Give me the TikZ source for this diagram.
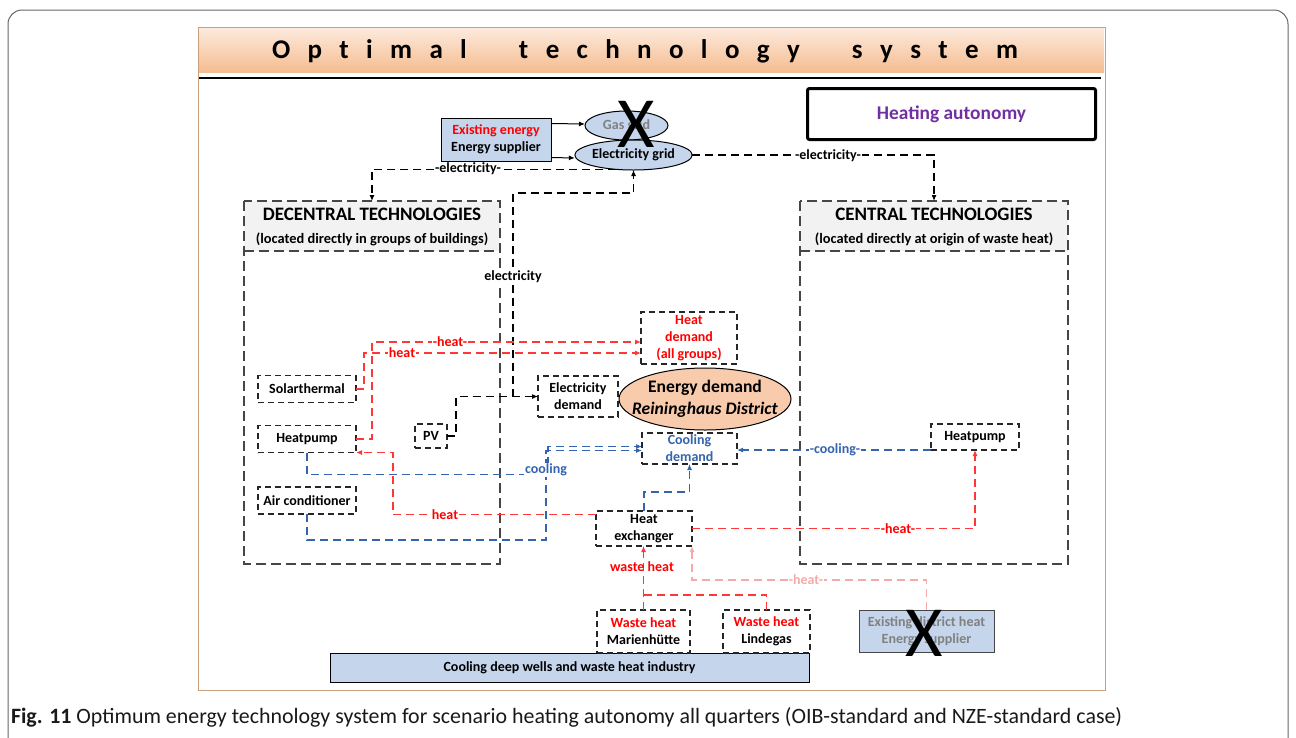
\documentclass[tikz,border=0pt]{standalone}
\usepackage{fontspec}
\setmainfont{Carlito}
\usetikzlibrary{arrows.meta,shapes.geometric,calc}
\definecolor{lblue}{RGB}{197,213,236}
\definecolor{peach}{RGB}{248,203,173}
\definecolor{hred}{RGB}{255,0,0}
\definecolor{lred}{RGB}{255,55,55}
\definecolor{pinkh}{RGB}{245,170,170}
\definecolor{cblue}{RGB}{52,100,175}
\definecolor{purp}{RGB}{112,48,160}
\definecolor{frameor}{RGB}{200,160,125}
\definecolor{titletop}{RGB}{253,234,220}
\definecolor{titlebot}{RGB}{245,188,145}
\definecolor{dgray}{RGB}{70,70,70}
\definecolor{hdrgray}{RGB}{242,242,242}
\definecolor{txtgray}{RGB}{128,128,128}
\newcommand{\fsz}[1]{\fontsize{#1}{17}\selectfont}
\tikzset{
  every node/.style={inner sep=0pt, outer sep=0pt},
  txt/.style={font=\bfseries\fsz{14}, align=center},
  sbox/.style={txt, draw=black!85, line width=1.1pt, dash pattern=on 6pt off 4pt, fill=white},
  bigdash/.style={draw=dgray, line width=1.6pt, dash pattern=on 10pt off 5pt},
  tip/.style={-{Latex[length=6pt,width=5pt]}},
  conn/.style={line width=1.1pt, dash pattern=on 8pt off 5pt, tip},
  heat/.style={conn, draw=lred, -{Latex[length=6pt,width=5pt,fill=lred]}},
  cool/.style={conn, draw=cblue, -{Latex[length=6pt,width=5pt,fill=cblue]}},
  pinkl/.style={conn, draw=pinkh, -{Latex[length=6pt,width=5pt,fill=pinkh]}},
  elec/.style={conn, draw=black},
  lbl/.style={txt, fill=white, inner xsep=1pt, inner ysep=1pt},
  bigx/.style={font=\fontsize{72}{72}\selectfont},
}
\begin{document}
\begin{tikzpicture}[x=1pt,y=-1pt]
\useasboundingbox (0,0) rectangle (1296,737);
% outer frame
\draw[black!60, line width=1pt, rounded corners=14pt] (8,10) rectangle (1288,752);
% panel
\shade[top color=titletop, bottom color=titlebot] (199,28) rectangle (1104,72);
\draw[frameor, line width=1pt] (198,27) rectangle (1105,690);
\node[anchor=base, font=\bfseries\fontsize{27}{27}\selectfont] (title) at (645,58)
 {\makebox[746pt][s]{O\hfill p\hfill t\hfill i\hfill m\hfill a\hfill l\hfill\hfill\hfill t\hfill e\hfill c\hfill h\hfill n\hfill o\hfill l\hfill o\hfill g\hfill y\hfill\hfill\hfill s\hfill y\hfill s\hfill t\hfill e\hfill m}};
\draw[line width=1.6pt] (199,78) -- (1101,78);
\node[draw, line width=3pt, rounded corners=2pt, minimum width=288pt, minimum height=51pt,
      text=purp, font=\bfseries\fontsize{19.4}{19.4}\selectfont] (ha) at (951.5,114) {Heating autonomy};

% big boxes
\path node[minimum width=256pt, minimum height=363pt] (dec) at (372,382.5) {};
\fill[hdrgray] (dec.north west) rectangle ($(dec.north east)+(0,50)$);
\draw[bigdash] ($(dec.north west)+(0,50)$) -- ($(dec.north east)+(0,50)$);
\draw[bigdash] (dec.north west) rectangle (dec.south east);
\node[font=\bfseries\fontsize{19}{19}\selectfont] (dect) at (372,214) {DECENTRAL TECHNOLOGIES};
\node[font=\bfseries\fontsize{14.4}{14.4}\selectfont] (decs) at (372,239) {(located directly in groups of buildings)};

\path node[minimum width=268pt, minimum height=363pt] (cen) at (934,382.5) {};
\fill[hdrgray] (cen.north west) rectangle ($(cen.north east)+(0,50)$);
\draw[bigdash] ($(cen.north west)+(0,50)$) -- ($(cen.north east)+(0,50)$);
\draw[bigdash] (cen.north west) rectangle (cen.south east);
\node[font=\bfseries\fontsize{19}{19}\selectfont] (cent) at (934,214) {CENTRAL TECHNOLOGIES};
\node[font=\bfseries\fontsize{14.4}{14.4}\selectfont] (cens) at (934,239) {(located directly at origin of waste heat)};

% top supplier and grids
\node[txt, draw=black, line width=1pt, fill=lblue, minimum width=110pt, minimum height=43pt] (es) at (496,139.5)
  {\textcolor{hred}{Existing energy}\\Energy supplier};
\node[txt, ellipse, draw=black, line width=1pt, fill=lblue, minimum width=83pt, minimum height=29pt, text=txtgray] (gg) at (626.5,125.5) {Gas grid};
\node[txt, ellipse, draw=black, line width=1pt, fill=lblue, minimum width=97pt, minimum height=30pt] (eg) at (633.5,155) {Electricity grid};
\node[bigx] (x1) at (636,124) {X};
\draw[line width=1pt, tip] ($(es.east)+(0,-16)$) -- ($(gg.west)+(0,-1.5)$);
\draw[line width=1pt, tip] ($(es.east)+(0,18)$) -- ($(eg.west)+(0,3)$);

% electricity connectors
\draw[elec] (eg.east) -| (cen.north);
\node[lbl] (le1) at (828,156) {-electricity-};
\draw[elec] (eg.220) -| (dec.north);
\node[lbl] (le2) at (468,169) {-electricity-};

% small nodes
\node[sbox, minimum width=98pt, minimum height=27pt] (sol) at (307,389) {Solarthermal};
\node[sbox, minimum width=98pt, minimum height=27pt] (hp) at (307,439) {Heatpump};
\node[sbox, minimum width=98pt, minimum height=27pt] (ac) at (307,500.5) {Air conditioner};
\node[sbox, minimum width=32pt, minimum height=24pt] (pv) at (431,436) {PV};
\node[sbox, minimum width=96pt, minimum height=52pt, text=hred] (hd) at (689,338) {Heat\\demand\\(all groups)};
\node[sbox, minimum width=80pt, minimum height=41pt] (ed) at (578,396.5) {Electricity\\demand};
\node[sbox, minimum width=95pt, minimum height=31pt, text=cblue] (cd) at (689.5,448.5) {Cooling\\demand};
\node[ellipse, draw=black, line width=1pt, fill=peach, minimum width=172pt, minimum height=62pt] (en) at (705,399) {};
\node[align=center, font=\bfseries\fontsize{17.6}{22}\selectfont] (ent) at (en.center)
      {Energy demand\\\textit{Reininghaus District}};
\node[sbox, minimum width=88pt, minimum height=26pt] (chp) at (975,437) {Heatpump};
\node[sbox, minimum width=96pt, minimum height=35pt] (hx) at (644,528.5) {Heat\\exchanger};
\node[txt, draw=black, line width=1pt, fill=lblue, minimum width=479pt, minimum height=29pt] (dw) at (569.5,667.5)
  {Cooling deep wells and waste heat industry};
\node[sbox, minimum width=93pt, minimum height=43pt, anchor=south] (mh) at (643.5,653) {\textcolor{hred}{Waste heat}\\Marienh\"utte};
\node[sbox, minimum width=87pt, minimum height=43pt, anchor=south] (lg) at (766.5,653) {\textcolor{hred}{Waste heat}\\Lindegas};
\node[txt, draw=dgray, line width=1pt, fill=lblue, minimum width=135pt, minimum height=42pt, text=txtgray] (dh) at (926.5,631)
  {Existing district heat\\Energy supplier};
\node[bigx] (x2) at (924,633) {X};

% PV electricity
\draw[elec] (pv.east) -- ++(9,0) |- (ed.west);
\coordinate (j1) at (513,396.5);
\draw[elec] (j1) -- ++(0,-203.5) -| (eg.south);
\node[lbl] (le3) at (513,277) {electricity};

% heat to heat demand
\draw[heat] (sol.east) -- ++(8,0) |- ($(hd.west)+(0,15)$);
\draw[heat] (hp.east) -- ++(16,0) |- ($(hd.west)+(0,4)$);
\node[lbl, text=hred] (lh1) at (450,342) {-heat-};
\node[lbl, text=hred] (lh2) at (402,353) {heat};

% heat from exchanger
\draw[heat] ($(hx.west)+(0,-14)$) -| ($(hp.south east)+(37,0)$) -- (hp.south east);
\node[lbl, text=hred] (lh3) at (445,514.5) {heat};
\draw[heat] (hx.east) -| (chp.south);
\node[lbl, text=hred] (lh4) at (898,528.5) {-heat-};

% cooling
\draw[cool] (hp.south) -- ++(0,22) -| ($(cd.west)+(-94,-2)$) -- ($(cd.west)+(0,-2)$);
\draw[cool] (ac.south) -- ++(0,26) -| ($(cd.west)+(-96,2)$) -- ($(cd.west)+(0,2)$);
\node[lbl, text=cblue] (lc1) at (546,470) {cooling};
\draw[cool] (hx.north) -- ++(0,-19) -| (cd.south);
\draw[cool] (chp.south west) -- (chp.south west -| cd.east);
\node[lbl, text=cblue] (lc2) at (835,450) {-cooling-};

% waste heat
\draw[heat, -] (lg.north) |- ($(mh.north)+(0,-15)$);
\draw[heat] (mh.north) -- (mh.north |- hx.south);
\node[txt, text=hred] (lw) at (642,567) {waste heat};
\draw[pinkl] (dh.north) -- ++(0,-30) -| (hx.south east);
\node[lbl, text=pinkh] (lh5) at (806,580) {-heat-};

% caption
\node[anchor=base west, font=\fontsize{21.9}{22}\selectfont, text=black!90] (cap) at (11,723)
 {\textbf{Fig. 11} Optimum energy technology system for scenario heating autonomy all quarters (OIB-standard and NZE-standard case)};
\end{tikzpicture}
\end{document}
